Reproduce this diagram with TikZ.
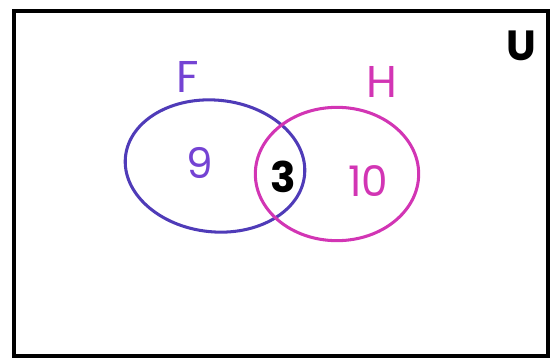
\documentclass[tikz,border=0pt]{standalone}
\usepackage{fontspec}
\setmainfont{Poppins}
\usetikzlibrary{shapes.geometric}
\definecolor{fring}{HTML}{4F3BB8}
\definecolor{ftext}{HTML}{7443D3}
\definecolor{hring}{HTML}{D235B4}

\begin{document}
\begin{tikzpicture}[x=0.03cm, y=-0.03cm,
    setring/.style={draw, ellipse, line width=2.6pt, inner sep=0pt},
    lbl/.style={font=\fontsize{38}{38}\selectfont, inner sep=0pt},
    num/.style={font=\fontsize{36}{36}\selectfont, inner sep=0pt}
]
\useasboundingbox (0,0) rectangle (558,362);
% universe
\draw[line width=2.6pt] (14,11) rectangle (548,356);
\node[font=\fontsize{36}{36}\bfseries, inner sep=0pt] (univ) at (521,46) {U};

% the two sets
\node[setring, draw=fring, minimum width=5.4cm, minimum height=3.95cm, rotate=-6] (F) at (215,166) {};
\node[setring, draw=hring, minimum width=4.9cm, minimum height=4cm] (H) at (337,174) {};
\node[lbl, text=ftext] (Flab) at (188,77) {F};
\node[lbl, text=hring] (Hlab) at (382,82) {H};

% counts
\node[num, text=ftext] (onlyF) at (200,163) {9};
\node[num, font=\fontsize{36}{36}\bfseries] (both) at (283,177) {3};
\node[num, text=hring] (onlyH) at (368,181) {10};
\end{tikzpicture}
\end{document}
